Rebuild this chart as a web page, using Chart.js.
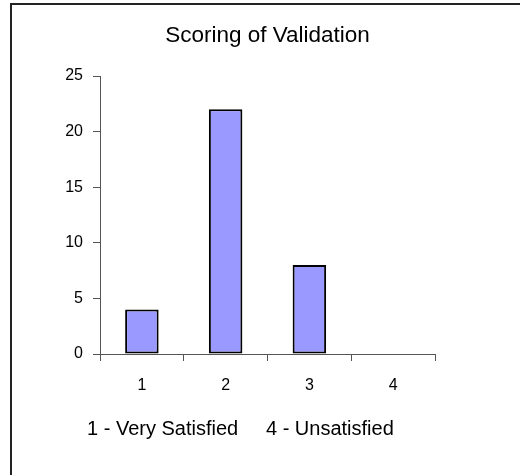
<!DOCTYPE html>
<html>
<head>
<meta charset="utf-8">
<script src="https://cdn.jsdelivr.net/npm/chart.js@4"></script>
<style>
  html, body { margin: 0; padding: 0; background: #fff; overflow: hidden; }
  #wrap { position: relative; width: 520px; height: 475px; }
  #rand { position: absolute; left: 10px; top: 3px; width: 600px; height: 600px;
          border-left: 2px solid #222; border-top: 2px solid #222; pointer-events: none; }
</style>
</head>
<body>
<div id="wrap">
  <canvas id="diagram" width="520" height="475"></canvas>
  <div id="rand"></div>
</div>
<script>
const kategoriak = ["1", "2", "3", "4"];
const ertekek = [4, 22, 8, 0];
const cim = "Scoring of Validation";
const lablec = "1 - Very Satisfied     4 - Unsatisfied";

// szoveg a diagram alatt
const lablecPlugin = {
  id: "lablec",
  afterDraw(chart) {
    const ctx = chart.ctx;
    const ter = chart.chartArea;
    ctx.save();
    ctx.font = "20px 'Liberation Sans', Arial, sans-serif";
    ctx.fillStyle = "#000";
    ctx.textAlign = "left";
    ctx.textBaseline = "alphabetic";
    ctx.fillText(lablec, ter.left - 13, ter.bottom + 81);
    ctx.restore();
  }
};

Chart.defaults.font.family = "'Liberation Sans', Arial, sans-serif";
Chart.defaults.color = "#000";

new Chart(document.getElementById("diagram"), {
  type: "bar",
  data: {
    labels: kategoriak,
    datasets: [{
      data: ertekek,
      backgroundColor: "#9999ff",
      borderColor: "#000",
      borderWidth: 2,
      borderSkipped: false,
      barPercentage: 0.4,
      categoryPercentage: 1
    }]
  },
  options: {
    responsive: false,
    animation: false,
    layout: { padding: { left: 60, right: 85, top: 0, bottom: 81 } },
    plugins: {
      legend: { display: false },
      tooltip: { enabled: false },
      title: {
        display: true,
        fullSize: false,
        text: cim,
        font: { size: 22.5, weight: "normal" },
        color: "#000",
        padding: { top: 22, bottom: 27 }
      }
    },
    scales: {
      x: {
        afterFit(s) { s.height = 40; },
        grid: { drawOnChartArea: false, offset: true, tickLength: 7, color: "#555" },
        border: { color: "#555" },
        ticks: { font: { size: 16 }, padding: 15, maxRotation: 0 }
      },
      y: {
        min: 0,
        max: 25,
        afterFit(s) { s.width = 40; },
        grid: { drawOnChartArea: false, tickLength: 7, color: "#555" },
        border: { color: "#555" },
        ticks: { font: { size: 16 }, stepSize: 5, padding: 10 }
      }
    }
  },
  plugins: [lablecPlugin]
});
</script>
</body>
</html>
